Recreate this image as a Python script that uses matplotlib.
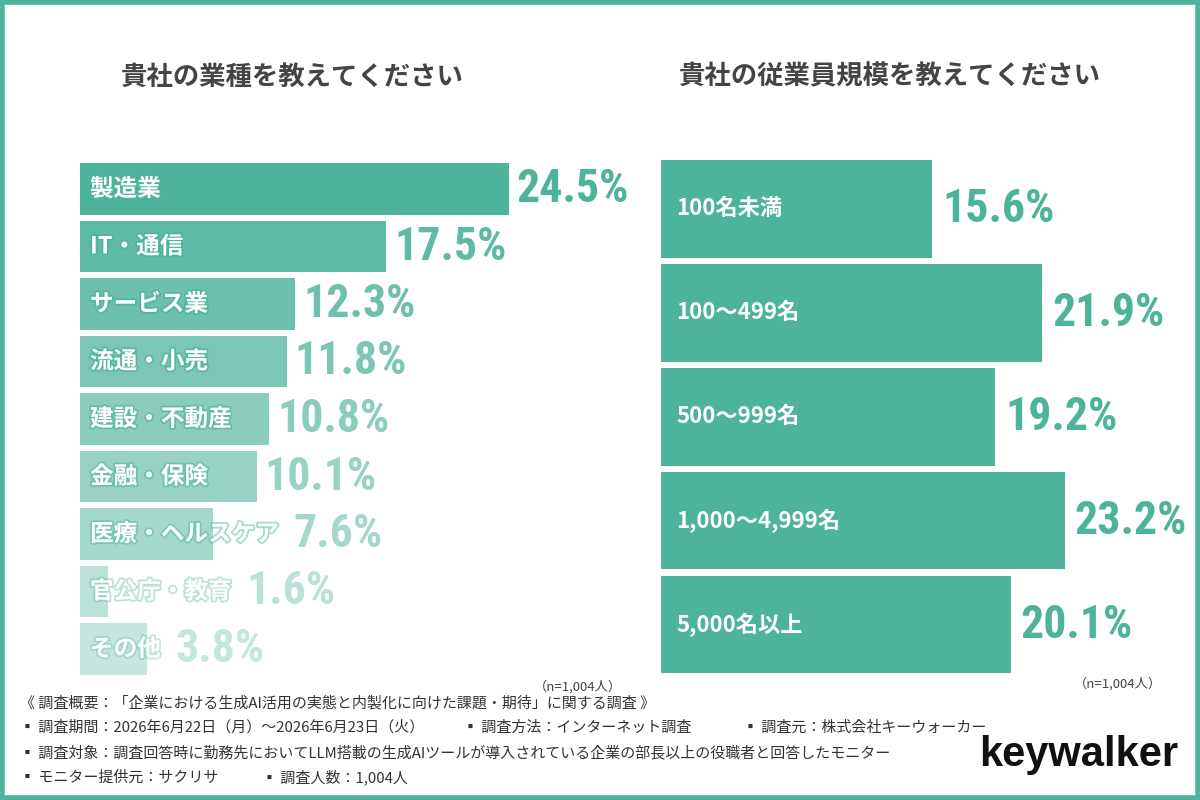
import matplotlib.pyplot as plt
import matplotlib.patheffects as pe
from matplotlib import font_manager as fm
from matplotlib.colors import to_rgba
from matplotlib.patches import Rectangle

plt.rcParams['font.family'] = ['Noto Sans CJK JP', 'DejaVu Sans']

TEAL = '#4db39b'
GRAY = '#444444'

# left chart: industry
industries = ['製造業', 'IT・通信', 'サービス業', '流通・小売', '建設・不動産',
              '金融・保険', '医療・ヘルスケア', '官公庁・教育', 'その他']
industry_pct = [24.5, 17.5, 12.3, 11.8, 10.8, 10.1, 7.6, 1.6, 3.8]
industry_alpha = [1.0, 0.9, 0.82, 0.74, 0.66, 0.58, 0.5, 0.38, 0.32]

# right chart: company size
sizes = ['100名未満', '100～499名', '500～999名', '1,000～4,999名', '5,000名以上']
size_pct = [15.6, 21.9, 19.2, 23.2, 20.1]

footer_lines = [
    [(20, '《 調査概要：「企業における生成AI活用の実態と内製化に向けた課題・期待」に関する調査 》')],
    [(20, '▪ 調査期間：2026年6月22日（月）～2026年6月23日（火）'),
     (463, '▪ 調査方法：インターネット調査'),
     (743, '▪ 調査元：株式会社キーウォーカー')],
    [(20, '▪ 調査対象：調査回答時に勤務先においてLLM搭載の生成AIツールが導入されている企業の部長以上の役職者と回答したモニター')],
    [(20, '▪ モニター提供元：サクリサ'), (262, '▪ 調査人数：1,004人')],
]


def pick_number_font():
    # a narrow face for the big percentages, if one is installed
    for name in ['Roboto Condensed', 'Liberation Sans Narrow', 'Open Sans Condensed']:
        try:
            fm.findfont(fm.FontProperties(family=name, weight='bold'), fallback_to_default=False)
            return {'family': [name, 'DejaVu Sans']}, 1.0
        except ValueError:
            pass
    path = fm.findfont(fm.FontProperties(family='DejaVu Sans', stretch='condensed', weight='bold'))
    if 'Condensed' in path:
        return {'family': ['DejaVu Sans'], 'fontstretch': 'condensed'}, 0.85
    return {'family': ['Noto Sans CJK JP', 'DejaVu Sans']}, 0.78


num_kw, num_scale = pick_number_font()

fig = plt.figure(figsize=(12, 8), dpi=100)
fig.patch.set_facecolor('white')
W, H = 1200, 800


def px_axes(left, top, right, bottom):
    return fig.add_axes([left / W, 1 - bottom / H, (right - left) / W, (bottom - top) / H])


# ---- left
ax1 = px_axes(80, 160.25, 605, 677.75)
ax1.set_xlim(0, 30)
ax1.set_ylim(len(industries) - 0.5, -0.5)
ax1.axis('off')
cols1 = [to_rgba(TEAL, a) for a in industry_alpha]
ax1.barh(range(len(industries)), industry_pct, height=0.9, color=cols1)

fig.canvas.draw()
renderer = fig.canvas.get_renderer()
inv = ax1.transData.inverted()
for i, (lab, v, c) in enumerate(zip(industries, industry_pct, cols1)):
    t = ax1.annotate(lab, (0, i), xytext=(10, 0), textcoords='offset pixels',
                     ha='left', va='center', fontsize=17, fontweight='bold', color='white',
                     path_effects=[pe.withStroke(linewidth=2.5, foreground=c)])
    bb = t.get_window_extent(renderer)
    txt_end = inv.transform((bb.x1, bb.y0))[0]
    if txt_end > v:
        start, gap = txt_end, 15
    else:
        start, gap = v, 8
    ax1.annotate(f'{v}%', (start, i), xytext=(gap, 0), textcoords='offset pixels',
                 ha='left', va='center', fontsize=33 * num_scale, fontweight='bold',
                 color=c, annotation_clip=False, **num_kw)

fig.text(292 / W, 1 - 77 / H, '貴社の業種を教えてください', ha='center', va='center',
         fontsize=19, fontweight='bold', color=GRAY)
fig.text(622 / W, 1 - 687 / H, '（n=1,004人）', ha='right', va='center', fontsize=9.5, color=GRAY)

# ---- right
ax2 = px_axes(661, 157, 1183, 676.5)
ax2.set_xlim(0, 30)
ax2.set_ylim(len(sizes) - 0.5, -0.5)
ax2.axis('off')
ax2.barh(range(len(sizes)), size_pct, height=0.94, color=TEAL)
for i, (lab, v) in enumerate(zip(sizes, size_pct)):
    ax2.annotate(lab, (0, i), xytext=(15, 0), textcoords='offset pixels',
                 ha='left', va='center', fontsize=16, fontweight='bold', color='white')
    ax2.annotate(f'{v}%', (v, i), xytext=(10, 0), textcoords='offset pixels',
                 ha='left', va='center', fontsize=33 * num_scale, fontweight='bold',
                 color=TEAL, annotation_clip=False, **num_kw)

fig.text(890 / W, 1 - 77 / H, '貴社の従業員規模を教えてください', ha='center', va='center',
         fontsize=19, fontweight='bold', color=GRAY)
fig.text(1162 / W, 1 - 684 / H, '（n=1,004人）', ha='right', va='center', fontsize=9.5, color=GRAY)

# ---- footer
for k, parts in enumerate(footer_lines):
    for x, s in parts:
        fig.text(x / W, 1 - (703 + k * 24.8) / H, s, ha='left', va='center',
                 fontsize=10.8, color='#333333')

fig.text(1178 / W, 1 - 755 / H, 'keywalker', ha='right', va='center', fontsize=30,
         fontweight='bold', family=['Liberation Sans', 'DejaVu Sans'], color='#111111')

# outer frame
fig.patches.append(Rectangle((0.002, 0.003), 0.996, 0.994, transform=fig.transFigure,
                             fill=False, edgecolor=TEAL, linewidth=4))

fig.savefig('out.png', dpi=100)
